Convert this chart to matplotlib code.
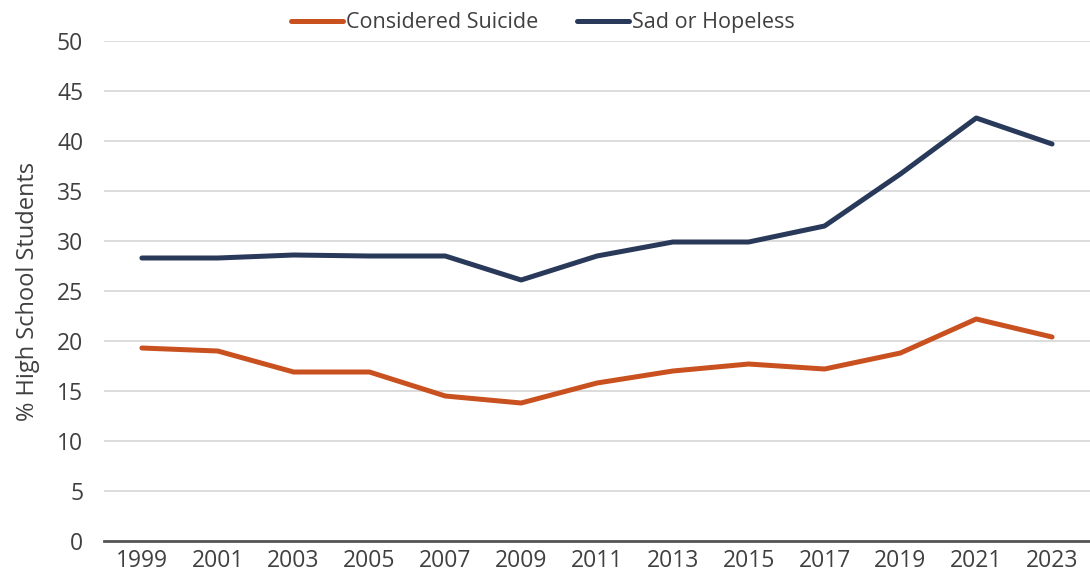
import matplotlib.pyplot as plt

years = ['1999', '2001', '2003', '2005', '2007', '2009', '2011',
         '2013', '2015', '2017', '2019', '2021', '2023']
considered_suicide = [19.3, 19.0, 16.9, 16.9, 14.5, 13.8, 15.8,
                      17.0, 17.7, 17.2, 18.8, 22.2, 20.4]
sad_hopeless = [28.3, 28.3, 28.6, 28.5, 28.5, 26.1, 28.5,
                29.9, 29.9, 31.5, 36.7, 42.3, 39.7]

plt.rcParams['font.family'] = ['Open Sans', 'DejaVu Sans']

fig = plt.figure(figsize=(10.9, 5.84), dpi=100)
ax = fig.add_axes([0.0954, 0.0736, 0.9046, 0.8562])

x = range(len(years))
ax.plot(x, considered_suicide, color='#C9511F', lw=3.6,
        solid_capstyle='round', solid_joinstyle='round', label='Considered Suicide')
ax.plot(x, sad_hopeless, color='#29395A', lw=3.6,
        solid_capstyle='round', solid_joinstyle='round', label='Sad or Hopeless')

ax.set_xlim(-0.5, len(years) - 0.5)
ax.set_ylim(0, 50)
ax.set_yticks(range(0, 51, 5))
ax.set_xticks(list(x))
ax.set_xticklabels(years)

ax.grid(axis='y', color='#D9D9D9', lw=1.3)
ax.set_axisbelow(True)
for s in ['top', 'right', 'left']:
    ax.spines[s].set_visible(False)
ax.spines['bottom'].set_color('#555555')
ax.spines['bottom'].set_linewidth(2)
ax.tick_params(axis='both', length=0, labelsize=16.5, colors='#404040')
ax.tick_params(axis='y', pad=15)
ax.tick_params(axis='x', pad=6)

ax.set_ylabel('% High School Students', fontsize=17, color='#404040', labelpad=12)

fig.legend(loc='upper center', bbox_to_anchor=(0.498, 1.012), ncol=2,
           frameon=False, fontsize=15.5, handlelength=2.4, handletextpad=0.15,
           columnspacing=1.8, labelcolor='#404040')

fig.savefig('out.png', dpi=100)
